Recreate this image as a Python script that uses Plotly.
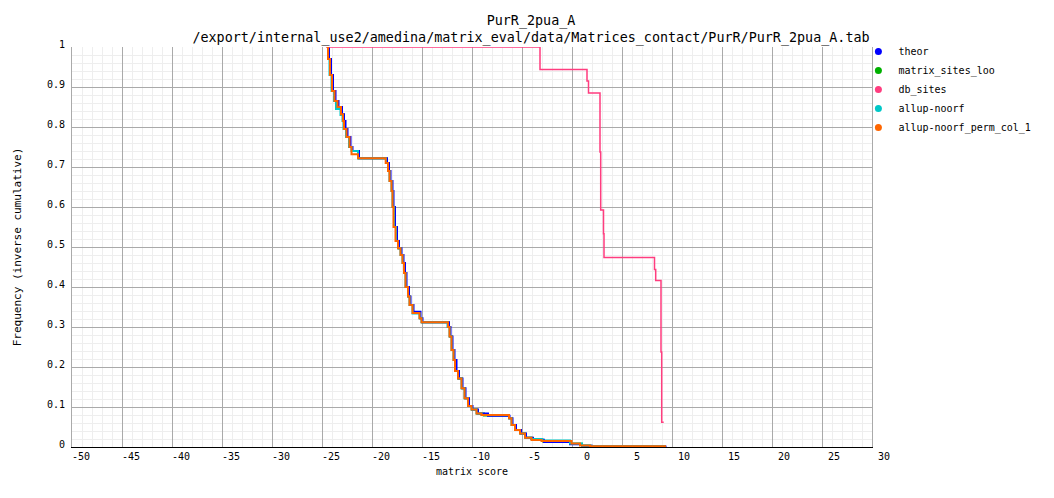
import plotly.graph_objects as go

# ---------------- data (inverse cumulative step levels) ----------------
series_names = ["theor", "matrix_sites_loo", "db_sites", "allup-noorf", "allup-noorf_perm_col_1"]
series_colors = ["#0000ff", "#00b000", "#ff3d7f", "#00c8c8", "#ff6600"]

theor_x = [-24.4, -24.3, -24.1, -23.9, -23.65, -23.35, -23.0, -22.8, -22.65, -22.45, -22.15, -21.95,
           -21.3, -18.5, -18.3, -18.15, -17.95, -17.85, -17.7, -17.5, -17.3, -17.05, -16.85, -16.7,
           -16.55, -16.3, -16.15, -15.85, -15.15, -14.95, -12.3, -12.15, -11.95, -11.75, -11.55, -11.3,
           -10.95, -10.65, -10.3, -9.95, -9.4, -8.4, -6.25, -5.95, -5.6, -5.1, -4.6, -3.9, -2.8, -0.2,
           1.0, 2.0, 9.45]
theor_y = [1.0, 0.97, 0.93, 0.89, 0.865, 0.85, 0.832, 0.815, 0.795, 0.775, 0.75, 0.74,
           0.722, 0.71, 0.69, 0.665, 0.64, 0.60, 0.55, 0.515, 0.497, 0.48, 0.46, 0.435,
           0.40, 0.376, 0.355, 0.338, 0.322, 0.312, 0.30, 0.276, 0.2425, 0.2175, 0.19, 0.171,
           0.147, 0.122, 0.1025, 0.094, 0.084, 0.078, 0.072, 0.055, 0.0425, 0.034, 0.023, 0.018, 0.0125, 0.007,
           0.003, 0.001, 0.001]

loo_x = [-24.45, -24.35, -24.15, -23.95, -23.7, -23.4, -23.05, -22.85, -22.7, -22.5, -22.2, -22.0,
         -21.35, -18.55, -18.35, -18.2, -18.0, -17.9, -17.75, -17.55, -17.35, -17.1, -16.9, -16.75,
         -16.6, -16.35, -16.2, -15.9, -15.2, -15.0, -12.35, -12.2, -12.0, -11.8, -11.6, -11.35,
         -11.0, -10.7, -10.35, -10.0, -9.5, -8.8, -6.3, -6.0, -5.65, -5.15, -4.65, -4.0, -2.9, -0.2,
         1.0, 1.9, 9.4]
loo_y = [1.0, 0.97, 0.93, 0.89, 0.865, 0.85, 0.832, 0.815, 0.795, 0.775, 0.75, 0.74,
         0.722, 0.71, 0.69, 0.665, 0.64, 0.60, 0.55, 0.515, 0.497, 0.48, 0.46, 0.435,
         0.40, 0.376, 0.355, 0.336, 0.322, 0.312, 0.30, 0.276, 0.2425, 0.2175, 0.19, 0.171,
         0.147, 0.122, 0.1025, 0.094, 0.084, 0.079, 0.072, 0.055, 0.0425, 0.034, 0.023, 0.018, 0.014, 0.008,
         0.003, 0.001, 0.001]

db_x = [-24.6, -3.2, 1.5, 1.65, 2.8, 2.87, 3.15, 3.2, 8.25, 8.37, 8.9, 8.97, 9.17]
db_y = [1.0, 0.944, 0.915, 0.885, 0.7375, 0.5925, 0.533, 0.474, 0.444, 0.416, 0.2375, 0.062, 0.062]

noorf_x = [-24.5, -24.4, -24.25, -24.05, -23.8, -23.6, -23.15, -22.95, -22.85, -22.6, -22.3, -22.05,
           -21.4, -18.6, -18.4, -18.25, -18.05, -17.95, -17.8, -17.6, -17.4, -17.15, -16.95, -16.8,
           -16.65, -16.4, -16.25, -15.95, -15.25, -15.05, -12.45, -12.25, -12.05, -11.85, -11.7, -11.4,
           -11.05, -10.75, -10.4, -10.05, -9.55, -9.05, -6.3, -6.05, -5.7, -5.2, -4.7, -4.1, -3.0, -0.2,
           1.0, 1.8, 9.3]
noorf_y = [1.0, 0.97, 0.93, 0.89, 0.865, 0.845, 0.83, 0.815, 0.795, 0.775, 0.75, 0.74,
           0.722, 0.71, 0.69, 0.665, 0.64, 0.60, 0.55, 0.515, 0.497, 0.48, 0.46, 0.435,
           0.40, 0.376, 0.355, 0.334, 0.322, 0.312, 0.30, 0.276, 0.2425, 0.2175, 0.19, 0.171,
           0.147, 0.122, 0.1025, 0.094, 0.084, 0.08, 0.072, 0.055, 0.0425, 0.034, 0.023, 0.02, 0.016, 0.009,
           0.004, 0.002, 0.002]

perm_x = [-24.5, -24.4, -24.2, -24.0, -23.75, -23.45, -23.1, -22.9, -22.8, -22.55, -22.25, -22.05,
          -21.4, -18.63, -18.4, -18.25, -18.05, -17.95, -17.85, -17.65, -17.4, -17.15, -16.95, -16.8,
          -16.65, -16.4, -16.25, -15.95, -15.25, -15.05, -12.4, -12.25, -12.05, -11.85, -11.7, -11.4,
          -11.05, -10.75, -10.4, -10.05, -9.55, -9.05, -6.3, -6.05, -5.7, -5.2, -4.7, -4.05, -3.05, -0.05,
          0.8, 1.8, 9.4]
perm_y = [1.0, 0.97, 0.93, 0.89, 0.865, 0.85, 0.832, 0.815, 0.795, 0.775, 0.75, 0.732,
          0.722, 0.71, 0.69, 0.665, 0.64, 0.60, 0.55, 0.515, 0.497, 0.48, 0.46, 0.435,
          0.40, 0.376, 0.355, 0.335, 0.322, 0.312, 0.30, 0.276, 0.2425, 0.2175, 0.19, 0.171,
          0.147, 0.122, 0.1025, 0.094, 0.084, 0.08, 0.072, 0.055, 0.0425, 0.034, 0.023, 0.0175, 0.015, 0.009,
          0.004, 0.002, 0.002]

x_tick_vals = list(range(-50, 31, 5))
x_tick_text = [str(v) for v in x_tick_vals]
y_tick_vals = [0, 0.1, 0.2, 0.3, 0.4, 0.5, 0.6, 0.7, 0.8, 0.9, 1]
y_tick_text = ["0", "0.1", "0.2", "0.3", "0.4", "0.5", "0.6", "0.7", "0.8", "0.9", "1"]

title_line1 = "PurR_2pua_A"
title_line2 = "/export/internal_use2/amedina/matrix_eval/data/Matrices_contact/PurR/PurR_2pua_A.tab"

# ---------------- figure ----------------
FONT = "DejaVu Sans Mono, monospace"
series = {
    "theor": (theor_x, theor_y, 2),
    "matrix_sites_loo": (loo_x, loo_y, 2),
    "db_sites": (db_x, db_y, 1.5),
    "allup-noorf": (noorf_x, noorf_y, 2),
    "allup-noorf_perm_col_1": (perm_x, perm_y, 2),
}
color_of = dict(zip(series_names, series_colors))
draw_order = ["matrix_sites_loo", "theor", "db_sites", "allup-noorf", "allup-noorf_perm_col_1"]

fig = go.Figure()
for name in draw_order:
    xs, ys, w = series[name]
    fig.add_trace(go.Scatter(x=xs, y=ys, mode="lines", line=dict(color=color_of[name], width=w, shape="hv"),
                             name=name, showlegend=False, hoverinfo="skip"))
for name, color in zip(series_names, series_colors):
    fig.add_trace(go.Scatter(x=[None], y=[None], mode="markers", name=name,
                             marker=dict(color=color, size=7, symbol="circle")))

# pad x tick labels so they are right-aligned like the reference
pad = [("\u00a0" * (3 - len(t))) + t for t in x_tick_text]

# the page body adds an 8px offset, so the figure is 8px smaller on each side used
W, H = 1046, 490
fig.update_layout(
    width=W, height=H, autosize=False,
    margin=dict(l=64, r=182, t=39, b=51),
    paper_bgcolor="white", plot_bgcolor="white",
    font=dict(family=FONT, size=10, color="#000000"),
    title=dict(text=title_line1 + "<br>" + title_line2, x=523 / W, xanchor="center",
               xref="container", yref="container",
               y=1 - 17 / H, yanchor="middle", automargin=False,
               font=dict(family=FONT, size=13.4, color="#000000")),
    legend=dict(x=0.983, xanchor="left", y=1.025, yanchor="top", bgcolor="rgba(0,0,0,0)",
                font=dict(family=FONT, size=10), itemclick=False),
    xaxis=dict(range=[-50, 30], tickmode="array", tickvals=x_tick_vals, ticktext=pad,
               ticklabelshift=9, showgrid=True, gridcolor="#aaaaaa", gridwidth=1, automargin=False,
               minor=dict(dtick=1, showgrid=True, gridcolor="#eeeeee", gridwidth=1),
               zeroline=False, showline=True, linecolor="#000000", linewidth=1, ticks="",
               title=dict(text="matrix score", font=dict(family=FONT, size=10), standoff=6)),
    yaxis=dict(range=[0, 1], tickmode="array", tickvals=y_tick_vals, ticktext=y_tick_text,
               ticklabelshift=-3, ticklabelstandoff=4, automargin=False,
               showgrid=True, gridcolor="#aaaaaa", gridwidth=1,
               minor=dict(dtick=0.02, showgrid=True, gridcolor="#eeeeee", gridwidth=1),
               zeroline=False, showline=True, linecolor="#aaaaaa", linewidth=1, mirror=True, ticks="",
               title=dict(text="Frequency (inverse cumulative)", font=dict(family=FONT, size=11), standoff=23)),
)

fig.write_html("out.html")
